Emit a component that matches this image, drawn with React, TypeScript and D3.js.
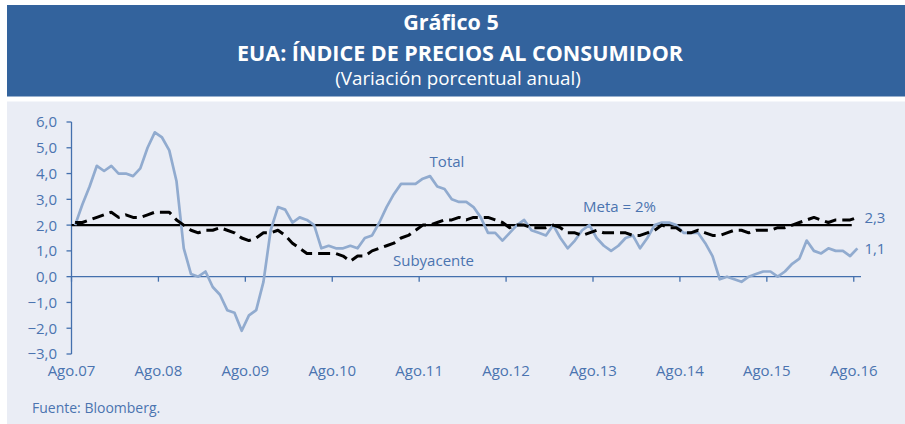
import React from "react";
import * as d3 from "d3";

const W = 905;
const H = 424;

const startYear = 2007;
const startMonth = 7; // August (0-based)

const totalValues = [
  2.0, 2.8, 3.5, 4.3, 4.1,
  4.3, 4.0, 4.0, 3.9, 4.2, 5.0, 5.6, 5.4, 4.9, 3.7, 1.1, 0.1,
  0.0, 0.2, -0.4, -0.7, -1.3, -1.4, -2.1, -1.5, -1.3, -0.2, 1.8, 2.7,
  2.6, 2.1, 2.3, 2.2, 2.0, 1.1, 1.2, 1.1, 1.1, 1.2, 1.1, 1.5,
  1.6, 2.1, 2.7, 3.2, 3.6, 3.6, 3.6, 3.8, 3.9, 3.5, 3.4, 3.0,
  2.9, 2.9, 2.7, 2.3, 1.7, 1.7, 1.4, 1.7, 2.0, 2.2, 1.8, 1.7,
  1.6, 2.0, 1.5, 1.1, 1.4, 1.8, 2.0, 1.5, 1.2, 1.0, 1.2, 1.5,
  1.6, 1.1, 1.5, 2.0, 2.1, 2.1, 2.0, 1.7, 1.7, 1.7, 1.3, 0.8,
  -0.1, 0.0, -0.1, -0.2, 0.0, 0.1, 0.2, 0.2, 0.0, 0.2, 0.5, 0.7,
  1.4, 1.0, 0.9, 1.1, 1.0, 1.0, 0.8, 1.1,
];

const coreValues = [
  2.1, 2.1, 2.2, 2.3, 2.4,
  2.5, 2.3, 2.4, 2.3, 2.3, 2.4, 2.5, 2.5, 2.5, 2.2, 2.0, 1.8,
  1.7, 1.8, 1.8, 1.9, 1.8, 1.7, 1.5, 1.4, 1.5, 1.7, 1.7, 1.8,
  1.6, 1.3, 1.1, 0.9, 0.9, 0.9, 0.9, 0.9, 0.8, 0.6, 0.8, 0.8,
  1.0, 1.1, 1.2, 1.3, 1.5, 1.6, 1.8, 2.0, 2.0, 2.1, 2.2, 2.2,
  2.3, 2.2, 2.3, 2.3, 2.3, 2.2, 2.1, 1.9, 2.0, 2.0, 1.9, 1.9,
  1.9, 2.0, 1.9, 1.7, 1.7, 1.6, 1.7, 1.8, 1.7, 1.7, 1.7, 1.7,
  1.6, 1.6, 1.7, 1.8, 2.0, 1.9, 1.9, 1.7, 1.7, 1.8, 1.7, 1.6,
  1.6, 1.7, 1.8, 1.8, 1.7, 1.8, 1.8, 1.8, 1.9, 1.9, 2.0, 2.1,
  2.2, 2.3, 2.2, 2.1, 2.2, 2.2, 2.2, 2.3,
];

const metaValue = 2.0;
const yTicks = [6, 5, 4, 3, 2, 1, 0, -1, -2, -3];
const xTickLabels = ["Ago.07", "Ago.08", "Ago.09", "Ago.10", "Ago.11", "Ago.12", "Ago.13", "Ago.14", "Ago.15", "Ago.16"];
const endLabels = ["2,3", "1,1"];

const months = totalValues.map((_, i) => new Date(startYear, startMonth + i, 1));

const FONT = "'Open Sans', 'Noto Sans', sans-serif";
const HEADER = "#33639d";
const PANEL = "#eaedf5";
const AXIS = "#4470ad";
const TEXT = "#4b74b0";
const TOTAL = "#91abcf";

const fmt = (v: number) => d3.format(".1f")(v).replace(".", ",");

export default function App() {
  const idx = d3.range(months.length);
  const x = d3.scaleBand<number>().domain(idx).range([71.5, 861]).paddingInner(0).paddingOuter(0);
  const cx = (i: number) => (x(i) as number) + x.bandwidth() / 2;
  const y = d3.scaleLinear().domain([-3, 6]).range([354, 122]);

  const line = d3
    .line<number>()
    .x((_, i) => cx(i))
    .y((d) => y(d));

  const tickIdx = idx.filter((i) => months[i].getMonth() === 7);
  const last = idx.length - 1;
  const [x0] = x.range();

  return (
    <svg width={W} height={H} style={{ position: "absolute", left: 0, top: 0 }} fontFamily={FONT}>
      <rect x={7} y={5} width={W - 7} height={91.5} fill={HEADER} />
      <rect x={7} y={101.5} width={W - 7} height={H - 101.5} fill={PANEL} />
      <g fill="#ffffff" textAnchor="middle">
        <text x={451} y={30} fontSize={21.5} fontWeight={700}>Gráfico 5</text>
        <text x={460} y={61} fontSize={21.5} fontWeight={700}>EUA: ÍNDICE DE PRECIOS AL CONSUMIDOR</text>
        <text x={458} y={85} fontSize={18.8}>(Variación porcentual anual)</text>
      </g>

      {/* y axis */}
      <line x1={x0} x2={x0} y1={y(6)} y2={y(-3)} stroke={AXIS} strokeWidth={1.3} />
      {yTicks.map((t) => (
        <g key={t}>
          <line x1={x0 - 5} x2={x0} y1={y(t)} y2={y(t)} stroke={AXIS} strokeWidth={1.3} />
          <text x={57} y={y(t)} dy="0.36em" textAnchor="end" fontSize={15} fill={TEXT}>
            {fmt(t)}
          </text>
        </g>
      ))}

      {/* x axis at zero */}
      <line x1={x0} x2={x.range()[1]} y1={y(0)} y2={y(0)} stroke={AXIS} strokeWidth={1.3} />
      {tickIdx.map((i, k) => (
        <g key={i}>
          <line x1={x(i)} x2={x(i)} y1={y(0)} y2={y(0) + 5} stroke={AXIS} strokeWidth={1.3} />
          <text x={x(i)} y={376} textAnchor="middle" fontSize={15} fill={TEXT}>
            {xTickLabels[k]}
          </text>
        </g>
      ))}

      {/* meta line */}
      <line x1={x0} x2={(x(last) as number) - 2} y1={y(metaValue)} y2={y(metaValue)} stroke="#000" strokeWidth={2.3} />

      {/* total */}
      <path d={line(totalValues) || ""} fill="none" stroke={TOTAL} strokeWidth={2.7} strokeLinejoin="round" />
      {/* core */}
      <path d={line(coreValues) || ""} fill="none" stroke="#000" strokeWidth={3} strokeDasharray="12,6" strokeLinejoin="round" />

      <g fill={TEXT} fontSize={15}>
        <text x={447} y={167} textAnchor="middle">Total</text>
        <text x={583} y={212}>Meta = 2%</text>
        <text x={393} y={266}>Subyacente</text>
        <text x={cx(last) + 7} y={y(coreValues[last])} dy="0.36em">{endLabels[0]}</text>
        <text x={cx(last) + 7} y={y(totalValues[last])} dy="0.36em">{endLabels[1]}</text>
      </g>

      <text x={32} y={412.5} fontSize={14} fill={TEXT}>Fuente: Bloomberg.</text>
    </svg>
  );
}
